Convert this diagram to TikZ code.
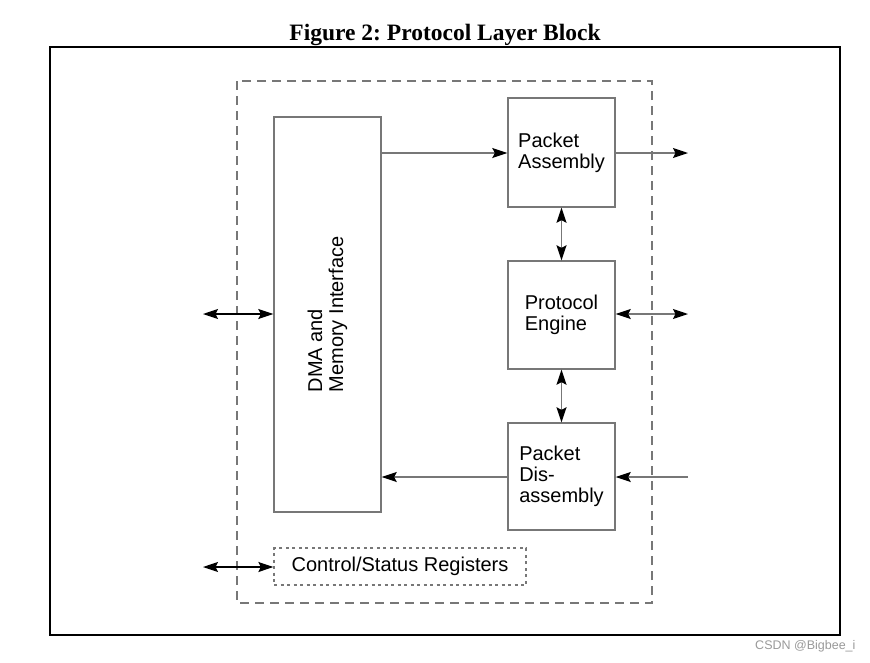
\documentclass[tikz,border=0pt]{standalone}
\usepackage{fontspec}
\setmainfont{Liberation Sans}
\newfontfamily\titlefont{Liberation Serif}
\usetikzlibrary{arrows.meta}
\definecolor{linegray}{HTML}{777777}
\tikzset{
  tip/.tip={Stealth[length=15pt,width=10pt,inset=2.5pt,black]},
  blk/.style={draw=linegray, line width=1.4pt, fill=none, inner sep=0pt, align=left,
    font=\fontsize{20}{21}\selectfont},
  conn/.style={draw=linegray, line width=1.4pt, -tip},
  dconn/.style={draw=linegray, line width=1.4pt, tip-tip},
  bconn/.style={draw=black, line width=1.4pt, tip-tip},
}
\begin{document}
\frenchspacing
\begin{tikzpicture}[x=1pt,y=-1pt]
\useasboundingbox (0,0) rectangle (870,662);
% title
\node[font=\titlefont\bfseries\fontsize{23.5}{24}\selectfont, anchor=base] (title) at (445,40) {Figure 2: Protocol Layer Block};
% outer frame
\draw[black, line width=2pt] (50,47) rectangle (840,635);
% dashed boundary
\draw[linegray, line width=1.4pt, dash pattern=on 9pt off 6pt] (237,81) rectangle (652,603);
% blocks
\node[blk, minimum width=107pt, minimum height=395pt] (dma) at (327.5,314.5) {};
\node[font=\fontsize{20}{21}\selectfont, align=left, rotate=90] (dmat) at (327.5,314.5) {DMA and\\Memory Interface};
\node[blk, minimum width=107pt, minimum height=109pt] (pa) at (561.5,152.5) {Packet\\Assembly};
\node[blk, minimum width=107pt, minimum height=108pt] (pe) at (561.5,315) {Protocol\\Engine};
\node[blk, minimum width=107pt, minimum height=107pt] (pd) at (561.5,476.5) {Packet\\Dis-\\assembly};
\node[blk, draw=linegray, line width=1.3pt, dash pattern=on 3pt off 3.5pt, minimum width=252pt, minimum height=37pt, align=center] (csr) at (400,566.5) {Control/Status Registers};
% free ends
\coordinate (paout) at (688,153);
\coordinate (peout) at (688,314);
\coordinate (pdin) at (688,477);
\coordinate (dmain) at (203,314);
\coordinate (csrin) at (203,567);
% connectors
\draw[conn] (dma.east |- 0,153) -- (pa.west |- 0,153);
\draw[conn] (pa.east |- 0,153) -- (paout);
\draw[dconn] (pa.south) -- (pe.north);
\draw[dconn] (pe.south) -- (pd.north);
\draw[dconn] (pe.east |- 0,314) -- (peout);
\draw[conn] (pdin) -- (pd.east |- 0,477);
\draw[conn] (pd.west |- 0,477) -- (dma.east |- 0,477);
\draw[bconn] (dmain) -- (dma.west |- 0,314);
\draw[bconn] (csrin) -- (csr.west |- 0,567);
% watermark
\node[font=\fontsize{12.5}{12.5}\selectfont, text=black!40, anchor=base east] (wm) at (859,649) {CSDN @Bigbee\_i};
\end{tikzpicture}
\end{document}
